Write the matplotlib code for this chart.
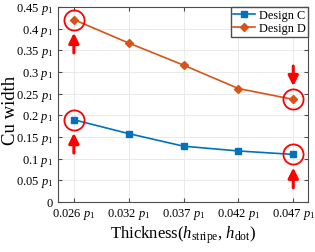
import numpy as np
import matplotlib.pyplot as plt

plt.rcParams['font.family'] = 'Liberation Serif'
plt.rcParams['mathtext.fontset'] = 'custom'
plt.rcParams['mathtext.rm'] = 'Liberation Serif'
plt.rcParams['mathtext.it'] = 'Liberation Serif:italic'

thickness = ['0.026', '0.032', '0.037', '0.042', '0.047']
design_c = [0.190, 0.158, 0.129, 0.118, 0.110]
design_d = [0.421, 0.367, 0.316, 0.262, 0.237]
yticks = [0, 0.05, 0.1, 0.15, 0.2, 0.25, 0.3, 0.35, 0.4, 0.45]

blue = (0, 0.447, 0.741)
orange = (0.85, 0.325, 0.098)

fig = plt.figure(figsize=(3.15, 2.52), dpi=100)
ax = fig.add_axes([0.184, 0.198, 0.794, 0.774])
x = np.arange(len(thickness))

ax.plot(x, design_c, '-s', color=blue, lw=1.2, ms=4, label='Design C')
ax.plot(x, design_d, '-D', color=orange, lw=1.2, ms=4, label='Design D')

# highlighted points: (index, series, arrow from below?)
marks = [(0, design_d, True), (0, design_c, True), (4, design_d, False), (4, design_c, True)]
for i, s, below in marks:
    ax.plot(x[i], s[i], 'o', ms=14.5, mfc='none', mec='red', mew=1.3, zorder=5)
    sign = -1 if below else 1
    ax.annotate('', xy=(x[i], s[i]), xytext=(0, sign * 24), textcoords='offset points',
                arrowprops=dict(arrowstyle='-|>,head_width=0.3,head_length=0.6', color='red',
                                lw=2.2, shrinkA=0, shrinkB=9.5))

ax.set_xlim(-0.29, 4.27)
ax.set_ylim(0, 0.45)
ax.set_xticks(x)
ax.set_xticklabels([t + r' $p_1$' for t in thickness])
ax.set_yticks(yticks)
ax.set_yticklabels(['0'] + ['{:g} $p_1$'.format(v) for v in yticks[1:]])
ax.tick_params(direction='in', top=True, right=True, labelsize=9, length=3, color='0.3')
for sp in ax.spines.values():
    sp.set_color('0.3')
    sp.set_linewidth(0.8)
ax.grid(True, color='0.9', lw=0.6)
ax.set_axisbelow(True)
ax.set_ylabel('Cu width', fontsize=13.5)
ax.yaxis.set_label_coords(-0.155, 0.47)
ax.set_xlabel(r'Thickness($h_{\rm stripe}$, $h_{\rm dot}$)', fontsize=12, labelpad=2)
ax.legend(loc='upper right', fontsize=8.8, fancybox=False, edgecolor='0.3', borderpad=0.2,
          handlelength=1.8, handletextpad=0.3, borderaxespad=0, labelspacing=0.1, framealpha=1)

fig.savefig('out.png', dpi=100)
